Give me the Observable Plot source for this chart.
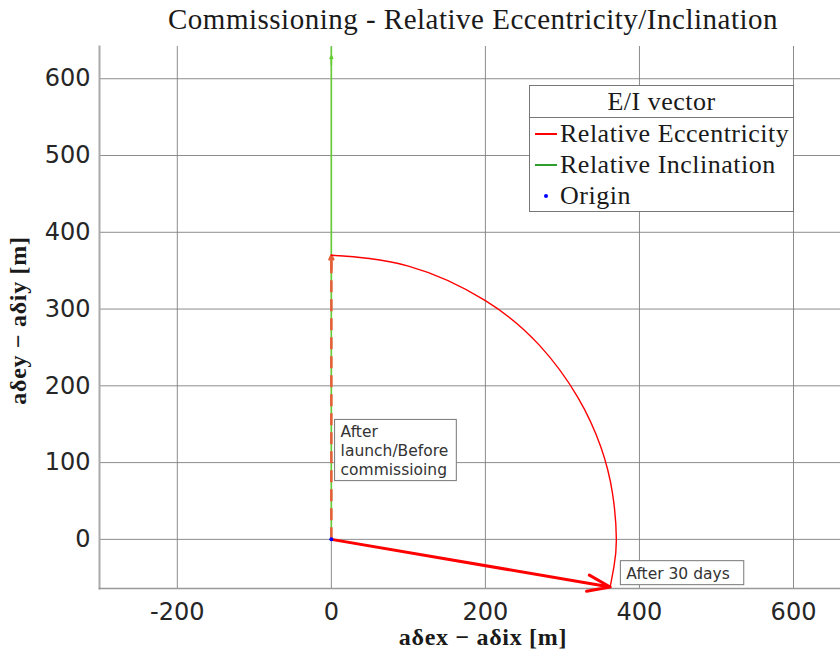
<!DOCTYPE html>
<html><head><meta charset="utf-8">
<script src="https://cdn.jsdelivr.net/npm/d3@7"></script>
<script src="https://cdn.jsdelivr.net/npm/@observablehq/plot@0.6"></script>
<style>
body{margin:0;background:#fff;}
#wrap{position:relative;width:840px;height:655px;overflow:hidden;}
#title{position:relative;height:36px;}
#title span{position:absolute;left:0;top:3px;width:946px;text-align:center;font-family:"Liberation Serif",serif;font-size:29px;letter-spacing:0.5px;line-height:32px;color:#1a1a1a;white-space:nowrap;}
#legend{position:absolute;left:529px;top:85px;width:265px;height:127px;border:1px solid #777;background:#fff;font-family:"Liberation Serif",serif;font-size:26px;letter-spacing:0.5px;color:#1a1a1a;box-sizing:border-box;}
#legend .hd{height:31px;line-height:31px;text-align:center;border-bottom:1px solid #777;}
#legend .row{height:31px;line-height:31px;position:relative;padding-left:30px;white-space:nowrap;}
#legend .sw{position:absolute;left:5px;top:15px;width:22px;height:1.5px;}
#legend .dot{position:absolute;left:14px;top:14px;width:4px;height:4px;border-radius:2px;}
</style></head>
<body><div id="wrap"><div id="title"><span>Commissioning - Relative Eccentricity/Inclination</span></div></div>
<script>
// axis ticks
const xTicks = [-200, 0, 200, 400, 600];
const yTicks = [0, 100, 200, 300, 400, 500, 600];
const xDomain = [-301, 661];
const yDomain = [-64, 642];

// relative eccentricity arc
const arcX = [0, 100, 200, 270, 320, 350, 365, 370, 367, 362];
const arcY = [370, 356, 311, 253, 185, 120, 60, 0, -35, -62];

// vectors
const eccStart = [0, 0];
const eccEnd = [362, -62];
const eccInit = [0, 370];
const incEnd = [0, 642];
const incHeadTip = 630;

// annotations
const annoX = [12, 383];
const annoY = [150, -34];
const annoText = ["After\nlaunch/Before\ncommissioing", "After 30 days"];

// legend
const legendTitle = "E/I vector";
const legendNames = ["Relative Eccentricity", "Relative Inclination", "Origin"];
const legendColors = ["#ff0000", "#2e9e2e", "#0000ff"];

// axis labels
const xLabel = "aδex − aδix [m]";
const yLabel = "aδey − aδiy [m]";

const arc = arcX.map((x, i) => ({x, y: arcY[i]}));
const annos = annoX.map((x, i) => ({x, y: annoY[i], text: annoText[i]}));
const fmt = d => String(d);

const plot = Plot.plot({
  width: 840, height: 619,
  marginLeft: 99, marginRight: 0, marginTop: 10, marginBottom: 67,
  x: {domain: xDomain},
  y: {domain: yDomain},
  style: {background: "transparent"},
  marks: [
    Plot.gridX(xTicks, {stroke: "#808080", strokeOpacity: 0.9}),
    Plot.gridY(yTicks, {stroke: "#808080", strokeOpacity: 0.9}),
    Plot.frame({anchor: "left", stroke: "#aaa", strokeWidth: 2}),
    Plot.frame({anchor: "bottom", stroke: "#999", strokeWidth: 1.5}),
    Plot.axisX(xTicks, {tickSize: 0, tickPadding: 14, tickFormat: fmt, fontSize: 24, fontFamily: "DejaVu Sans", fill: "#262626", label: null}),
    Plot.axisY(yTicks, {tickSize: 0, tickPadding: 9, tickFormat: fmt, fontSize: 24, fontFamily: "DejaVu Sans", fill: "#262626", label: null}),
    // inclination (green)
    Plot.link([{x1: eccStart[0], y1: eccStart[1], x2: incEnd[0], y2: incEnd[1]}], {x1: "x1", y1: "y1", x2: "x2", y2: "y2", stroke: "#66cc33", strokeWidth: 1.6}),
    Plot.arrow([{x1: 0, y1: incHeadTip - 12, x2: 0, y2: incHeadTip}], {x1: "x1", y1: "y1", x2: "x2", y2: "y2", stroke: "#66cc33", strokeWidth: 1.6, headLength: 10, headAngle: 50}),
    // initial eccentricity (dashed)
    Plot.link([{x1: eccStart[0], y1: eccStart[1], x2: eccInit[0], y2: eccInit[1] - 6}], {x1: "x1", y1: "y1", x2: "x2", y2: "y2", stroke: "#e5603a", strokeWidth: 2.6, strokeDasharray: "12,7"}),
    Plot.arrow([{x1: 0, y1: eccInit[1] - 18, x2: eccInit[0], y2: eccInit[1]}], {x1: "x1", y1: "y1", x2: "x2", y2: "y2", stroke: "#e5603a", strokeWidth: 2.4, headLength: 11, headAngle: 50}),
    // arc
    Plot.line(arc, {x: "x", y: "y", stroke: "#ff0000", strokeWidth: 1.4, curve: "natural"}),
    // final eccentricity vector
    Plot.arrow([{x1: eccStart[0], y1: eccStart[1], x2: eccEnd[0], y2: eccEnd[1]}], {x1: "x1", y1: "y1", x2: "x2", y2: "y2", stroke: "#ff0000", strokeWidth: 3, headLength: 12, headAngle: 40}),
    // origin
    Plot.dot([{x: eccStart[0], y: eccStart[1]}], {x: "x", y: "y", r: 2, fill: "#0000ff", stroke: null}),
    // annotations
    Plot.text(annos, {x: "x", y: "y", text: "text", textAnchor: "start", lineAnchor: "top", fontSize: 15.5, lineHeight: 1.2, fontFamily: "DejaVu Sans", fill: "#333", className: "anno"}),
    // axis labels
    Plot.text([xLabel], {frameAnchor: "bottom", textAnchor: "middle", lineAnchor: "middle", dx: 13, dy: 49, fontSize: 24, fontWeight: "bold", fontFamily: "Liberation Serif", fill: "#1a1a1a", style: "letter-spacing:0.7px"}),
    Plot.text([yLabel], {frameAnchor: "left", textAnchor: "middle", lineAnchor: "middle", dx: -81, dy: 3, rotate: -90, fontSize: 24, fontWeight: "bold", fontFamily: "Liberation Serif", fill: "#1a1a1a", className: "ylab"})
  ]
});
const wrap = document.getElementById("wrap");
wrap.appendChild(plot);
plot.querySelectorAll("text").forEach(t => {
  if (t.textContent === xLabel || t.textContent === yLabel) t.style.letterSpacing = "0.7px";
});

// boxes around annotations
const padL = [6, 6], padR = [8, 14], padT = [4, 4], padB = [2, 2];
plot.querySelectorAll("g.anno text").forEach((t, i) => {
  const b = t.getBBox();
  const r = document.createElementNS("http://www.w3.org/2000/svg", "rect");
  r.setAttribute("x", b.x - padL[i]);
  r.setAttribute("y", b.y - padT[i]);
  r.setAttribute("width", b.width + padL[i] + padR[i]);
  r.setAttribute("height", b.height + padT[i] + padB[i]);
  r.setAttribute("fill", "white");
  r.setAttribute("stroke", "#777");
  r.setAttribute("stroke-width", 1);
  const tr = t.getAttribute("transform");
  if (tr) r.setAttribute("transform", tr);
  t.parentNode.insertBefore(r, t);
});

// legend
const lg = document.createElement("div");
lg.id = "legend";
let html = `<div class="hd">${legendTitle}</div>`;
legendNames.forEach((n, i) => {
  const sw = i < 2 ? `<span class="sw" style="background:${legendColors[i]}"></span>` : `<span class="dot" style="background:${legendColors[i]}"></span>`;
  html += `<div class="row">${sw}${n}</div>`;
});
lg.innerHTML = html;
wrap.appendChild(lg);
</script>
</body></html>
